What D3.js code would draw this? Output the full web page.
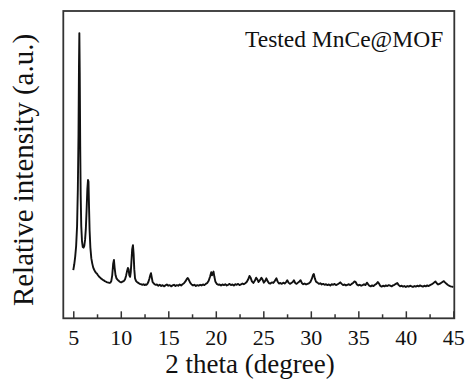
<!DOCTYPE html>
<html lang="en">
<head>
    <meta charset="UTF-8">
    <title>Tested MnCe@MOF XRD</title>
    <style>
        body {
            margin: 0;
            padding: 0;
            background-color: #fff;
        }

        svg {
            display: block;
        }

        svg text {
            font-family: "Liberation Serif", "Times New Roman", serif;
            fill: #111;
        }

        .axis text {
            font-size: 22px;
        }

        .axis line {
            stroke: #333;
            stroke-width: 1.5px;
        }

        .frame {
            fill: none;
            stroke: #333;
            stroke-width: 1.8px;
        }

        .trace {
            fill: none;
            stroke: #111;
            stroke-width: 1.9px;
            stroke-linejoin: round;
        }
    </style>
</head>
<body>

<svg width="465" height="379" id="chart"></svg>

<script src="https://d3js.org/d3.v7.min.js"></script>
<script>
    // Diffraction angle (degrees) and intensity (a.u.)
    const twoTheta = [
        5.00, 5.10, 5.20, 5.30, 5.40, 5.48, 5.55, 5.60, 5.64, 5.68, 5.73, 5.78, 5.84, 5.92,
        6.00, 6.08, 6.16, 6.24, 6.32, 6.40, 6.48, 6.55, 6.60, 6.66, 6.72, 6.80, 6.90,
        7.00, 7.10, 7.20, 7.30, 7.40, 7.50, 7.60, 7.70, 7.80, 7.90,
        8.00, 8.10, 8.20, 8.30, 8.40, 8.50, 8.60, 8.70, 8.80, 8.90,
        9.00, 9.10, 9.20, 9.28, 9.35, 9.45, 9.55, 9.65, 9.75, 9.85, 9.95,
        10.05, 10.15, 10.25, 10.35, 10.45, 10.55, 10.65, 10.75, 10.82, 10.90, 10.98,
        11.05, 11.12, 11.20, 11.28, 11.35, 11.42, 11.50, 11.60, 11.70, 11.80, 11.90,
        12.00, 12.10, 12.20, 12.30, 12.40, 12.50, 12.60, 12.70, 12.80, 12.90,
        13.00, 13.10, 13.18, 13.25, 13.35, 13.45, 13.55, 13.65, 13.80, 13.95,
        14.10, 14.25, 14.40, 14.55, 14.70, 14.85, 15.00, 15.15, 15.30, 15.45, 15.60, 15.75, 15.90,
        16.05, 16.20, 16.35, 16.50, 16.65, 16.80, 16.95, 17.05, 17.15, 17.30, 17.45, 17.60, 17.75, 17.90,
        18.05, 18.20, 18.35, 18.50, 18.65, 18.80, 18.95, 19.10, 19.25, 19.40, 19.52, 19.60, 19.68, 19.76, 19.85, 19.95,
        20.10, 20.25, 20.40, 20.55, 20.70, 20.85, 21.00, 21.15, 21.30, 21.45, 21.60, 21.75, 21.90,
        22.05, 22.20, 22.35, 22.50, 22.65, 22.80, 22.95, 23.10, 23.25, 23.40, 23.55, 23.65, 23.80, 23.95,
        24.10, 24.25, 24.35, 24.50, 24.65, 24.80, 24.92, 25.05, 25.20, 25.32, 25.45, 25.60, 25.75, 25.90,
        26.05, 26.20, 26.38, 26.50, 26.65, 26.80, 26.95, 27.10, 27.25, 27.40, 27.52, 27.65, 27.80, 27.95,
        28.10, 28.22, 28.35, 28.50, 28.65, 28.80, 28.92, 29.05, 29.20, 29.35, 29.50, 29.65, 29.80, 29.95,
        30.10, 30.25, 30.32, 30.42, 30.55, 30.70, 30.85, 31.00, 31.15, 31.30, 31.45, 31.60, 31.75, 31.90,
        32.05, 32.20, 32.35, 32.50, 32.65, 32.80, 32.95, 33.10, 33.25, 33.40, 33.55, 33.70, 33.85,
        34.00, 34.15, 34.30, 34.45, 34.60, 34.72, 34.85, 35.00, 35.15, 35.30, 35.45, 35.60, 35.75, 35.90,
        36.02, 36.15, 36.30, 36.45, 36.60, 36.75, 36.90, 37.05, 37.18, 37.30, 37.45, 37.60, 37.75, 37.90,
        38.05, 38.20, 38.35, 38.50, 38.65, 38.80, 38.95, 39.10, 39.25, 39.40, 39.55, 39.70, 39.85,
        40.00, 40.15, 40.30, 40.45, 40.60, 40.75, 40.90, 41.05, 41.20, 41.35, 41.50, 41.65, 41.80, 41.95,
        42.10, 42.25, 42.40, 42.55, 42.70, 42.85, 43.00, 43.12, 43.25, 43.40, 43.55, 43.70, 43.85,
        44.00, 44.12, 44.25, 44.40, 44.55, 44.70, 44.85, 45.00
    ];

    const intensity = [
        157, 175, 200, 235, 300, 420, 600, 820, 928, 800, 560, 400, 300, 250,
        232, 230, 236, 255, 290, 350, 420, 450, 445, 360, 285, 230, 195,
        178, 165, 158, 152, 148, 145, 140, 136, 133, 130,
        128, 125, 124, 121, 120, 118, 117, 116, 115, 116,
        121, 140, 178, 190, 165, 140, 130, 126, 123, 120, 118,
        117, 119, 120, 122, 127, 138, 152, 164, 160, 140, 135,
        150, 185, 225, 238, 210, 160, 130, 122, 118, 116, 114,
        112, 111, 110, 109, 111, 108, 110, 109, 112, 118,
        128, 140, 147, 135, 118, 114, 111, 109, 110, 106,
        109, 105, 108, 104, 107, 110, 106, 108, 104, 107, 109, 105, 108,
        106, 110, 107, 111, 114, 120, 128, 131, 126, 116, 110, 107, 109, 105,
        108, 106, 109, 107, 110, 108, 112, 115, 122, 136, 150, 140, 145, 152, 135, 120,
        112, 109, 110, 107, 110, 108, 111, 107, 109, 112, 108, 110, 107,
        111, 109, 112, 108, 110, 113, 111, 114, 118, 126, 138, 133, 120, 115,
        122, 132, 128, 118, 124, 132, 126, 116, 122, 130, 121, 114, 113, 117,
        115, 121, 130, 120, 113, 115, 112, 116, 113, 118, 124, 116, 112, 115,
        118, 124, 115, 112, 116, 120, 124, 115, 111, 113, 110, 112, 114, 118,
        128, 142, 144, 130, 119, 116, 112, 114, 110, 112, 109, 111, 108, 110,
        107, 111, 109, 112, 108, 110, 113, 117, 112, 108, 110, 107, 109,
        111, 108, 112, 115, 120, 118, 110, 107, 109, 106, 108, 111, 108, 116,
        111, 106, 104, 107, 105, 109, 112, 118, 113, 106, 103, 106, 104, 107,
        105, 108, 106, 104, 107, 109, 112, 115, 108, 104, 106, 103, 105,
        102, 105, 103, 106, 104, 102, 105, 103, 106, 104, 107, 105, 103, 106,
        104, 107, 105, 108, 110, 113, 117, 120, 114, 110, 112, 115, 118,
        121, 117, 113, 109, 106, 104, 103, 102
    ];

    const majorTicks = [5, 10, 15, 20, 25, 30, 35, 40, 45];
    const minorTicks = [7.5, 12.5, 17.5, 22.5, 27.5, 32.5, 37.5, 42.5];

    const xLabel = "2 theta (degree)";
    const yLabel = "Relative intensity (a.u.)";
    const sampleName = "Tested MnCe@MOF";

    const svg = d3.select("#chart");
    const serif = "'Liberation Serif', 'Times New Roman', serif";

    // plot frame in pixels
    const plotLeft = 63.3, plotRight = 454.3, plotTop = 11, plotBottom = 318.3;

    const x = d3.scaleLinear()
        .domain([3.95, 45.1])
        .range([plotLeft, plotRight]);

    const y = d3.scaleLinear()
        .domain([0, 1000])
        .range([plotBottom, plotTop]);

    const data = twoTheta.map((t, i) => ({ t: t, v: intensity[i] }));

    // minor ticks (inward, no labels)
    svg.append("g")
        .attr("class", "axis")
        .attr("transform", `translate(0,${plotBottom})`)
        .call(d3.axisBottom(x).tickValues(minorTicks).tickSizeInner(-4).tickSizeOuter(0).tickFormat(""))
        .call(g => g.select(".domain").remove());

    // major ticks with labels
    svg.append("g")
        .attr("class", "axis")
        .attr("transform", `translate(0,${plotBottom})`)
        .call(d3.axisBottom(x).tickValues(majorTicks).tickSizeInner(-7).tickSizeOuter(0).tickPadding(11).tickFormat(d3.format("d")))
        .attr("font-family", serif)
        .call(g => g.select(".domain").remove());

    // the pattern
    const line = d3.line()
        .x(d => x(d.t))
        .y(d => y(d.v));

    svg.append("path")
        .datum(data)
        .attr("class", "trace")
        .attr("d", line);

    // box around the plot
    svg.append("rect")
        .attr("class", "frame")
        .attr("x", plotLeft)
        .attr("y", plotTop)
        .attr("width", plotRight - plotLeft)
        .attr("height", plotBottom - plotTop);

    // labels
    svg.append("text")
        .attr("x", 250)
        .attr("y", 373)
        .attr("text-anchor", "middle")
        .attr("font-family", serif)
        .attr("font-size", "27px")
        .text(xLabel);

    svg.append("text")
        .attr("transform", "translate(33,170) rotate(-90)")
        .attr("text-anchor", "middle")
        .attr("font-family", serif)
        .attr("font-size", "29px")
        .text(yLabel);

    svg.append("text")
        .attr("x", 245)
        .attr("y", 47)
        .attr("font-family", serif)
        .attr("font-size", "23.5px")
        .text(sampleName);
</script>
</body>
</html>
